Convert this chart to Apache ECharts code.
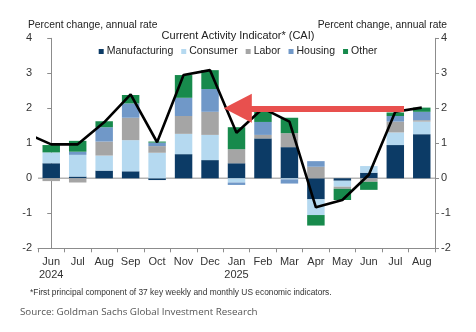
<!DOCTYPE html>
<html>
<head>
<meta charset="utf-8">
<script src="https://cdn.jsdelivr.net/npm/echarts@6/dist/echarts.min.js"></script>
<style>
  html, body { margin: 0; padding: 0; background: #fff; }
  #chart { width: 476px; height: 332px; }
</style>
</head>
<body>
<div id="chart"></div>
<script>
// Months shown on the category axis (second line marks the year)
const months = ['Jun\n2024', 'Jul', 'Aug', 'Sep', 'Oct', 'Nov', 'Dec', 'Jan\n2025',
                'Feb', 'Mar', 'Apr', 'May', 'Jun', 'Jul', 'Aug'];

// Contributions to the CAI, percentage points
const manufacturing = [0.43, 0.05, 0.22, 0.20, -0.05, 0.69, 0.52, 0.43, 1.14, 0.89, -0.60, -0.07, 0.16, 0.95, 1.26];
const consumer      = [0.31, 0.62, 0.43, 0.89, 0.73, 0.58, 0.72, -0.12, 0.00, -0.03, -0.45, -0.17, 0.19, 0.36, 0.36];
const labor         = [-0.08, -0.12, 0.40, 0.64, 0.19, 0.51, 0.66, 0.40, 0.10, 0.40, 0.33, -0.06, -0.10, 0.31, 0.04];
const housing       = [0.00, 0.09, 0.41, 0.41, 0.10, 0.52, 0.65, -0.07, 0.37, -0.12, 0.16, 0.00, 0.00, 0.16, 0.24];
const other         = [0.21, 0.31, 0.17, 0.24, 0.03, 0.65, 0.54, 0.63, 0.37, 0.44, -0.30, -0.32, -0.23, 0.10, 0.12];

// Headline CAI; the first value is May 2024, just left of the plotted range
const caiPrevious = 1.30;
const cai = [0.97, 0.97, 1.60, 2.40, 1.03, 2.95, 3.09, 1.30, 2.00, 1.62, -0.83, -0.62, 0.10, 1.90, 2.02];

// Y-axis range and step
const yMin = -2, yMax = 4, yStep = 1;

// Arrow along the 2% level, running from late Jul 2025 back towards Jan 2025
const arrowLevel = 2;
const arrowFrom = 13.33, arrowTo = 7.05;

const colors = {
  Manufacturing: '#0c3b66',
  Consumer: '#b5d9f0',
  Labor: '#a5a5a5',
  Housing: '#7098c8',
  Other: '#178a4c'
};

const stacks = [
  ['Manufacturing', manufacturing],
  ['Consumer', consumer],
  ['Labor', labor],
  ['Housing', housing],
  ['Other', other]
];

const caiPoints = [[-1, caiPrevious]].concat(cai.map((v, i) => [i, v]));

const font = '"Liberation Sans", Arial, sans-serif';
const axisGrey = '#8c8c8c';

const chart = echarts.init(document.getElementById('chart'), null, { renderer: 'canvas' });

const valueAxis = (pos) => ({
  type: 'value',
  position: pos,
  min: yMin, max: yMax, interval: yStep,
  axisLine: { show: true, lineStyle: { color: axisGrey, width: 1 } },
  axisTick: { show: true, inside: false, length: 4, lineStyle: { color: axisGrey } },
  axisLabel: { color: '#333', fontSize: 11, fontFamily: font, margin: 6 },
  splitLine: { show: false }
});

const option = {
  animation: false,
  backgroundColor: '#fff',
  color: stacks.map(s => colors[s[0]]),
  title: [
    { text: 'Current Activity Indicator* (CAI)', left: 'center', top: 25,
      textStyle: { fontSize: 11, fontWeight: 'normal', color: '#222', fontFamily: font } },
    { text: 'Percent change, annual rate', left: 23, top: 15,
      textStyle: { fontSize: 10.3, fontWeight: 'normal', color: '#222', fontFamily: font } },
    { text: 'Percent change, annual rate', right: 24, top: 15,
      textStyle: { fontSize: 10.3, fontWeight: 'normal', color: '#222', fontFamily: font } },
    { text: '*First principal component of 37 key weekly and monthly US economic indicators.', left: 25, top: 284,
      textStyle: { fontSize: 8.4, fontWeight: 'normal', color: '#333', fontFamily: font } },
    { text: 'Source: Goldman Sachs Global Investment Research', left: 15, top: 302,
      textStyle: { fontSize: 9.8, fontWeight: 'normal', color: '#555', fontFamily: '"Open Sans", sans-serif' } }
  ],
  legend: {
    top: 41, left: 'center',
    itemWidth: 5, itemHeight: 5, itemGap: 8,
    icon: 'rect',
    textStyle: { fontSize: 10.5, color: '#222', fontFamily: font, padding: [0, 0, 0, -2] },
    data: stacks.map(s => s[0])
  },
  grid: { left: 38, right: 41, top: 38.3, bottom: 83.7, containLabel: false },
  xAxis: [
    {
      type: 'category',
      data: months,
      boundaryGap: true,
      axisLine: { show: true, onZero: false, lineStyle: { color: axisGrey } },
      axisTick: { show: true, length: 4, lineStyle: { color: axisGrey } },
      axisLabel: { color: '#333', fontSize: 11, fontFamily: font, margin: 7, lineHeight: 13, interval: 0 }
    },
    {
      type: 'value', min: -0.5, max: 14.5, show: false
    }
  ],
  yAxis: [valueAxis('left'), valueAxis('right')],
  series: [
    // zero reference line behind the bars
    {
      type: 'line', xAxisIndex: 1, yAxisIndex: 0, z: 1,
      data: [[-0.5, 0], [14.5, 0]],
      symbol: 'none', silent: true,
      lineStyle: { color: '#b4b4b4', width: 1.5 }
    }
  ].concat(stacks.map(([name, values]) => ({
    name, type: 'bar', stack: 'cai', z: 2,
    xAxisIndex: 0, yAxisIndex: 0,
    barCategoryGap: '34%',
    data: values,
    itemStyle: { color: colors[name] }
  }))).concat([
    // red arrow along the 2% level
    {
      type: 'line', xAxisIndex: 1, yAxisIndex: 0, z: 3,
      data: [], silent: true,
      markLine: {
        silent: true,
        symbol: ['none', 'triangle'],
        symbolSize: [29, 28],
        label: { show: false },
        lineStyle: { color: '#e8504e', width: 6, type: 'solid' },
        data: [[{ coord: [arrowFrom, arrowLevel] }, { coord: [arrowTo, arrowLevel] }]]
      }
    },
    // headline CAI line
    {
      name: 'CAI', type: 'line', xAxisIndex: 1, yAxisIndex: 0, z: 4,
      data: caiPoints, clip: true,
      symbol: 'none',
      lineStyle: { color: '#000', width: 2.6 }
    }
  ])
};

chart.setOption(option);
</script>
</body>
</html>
